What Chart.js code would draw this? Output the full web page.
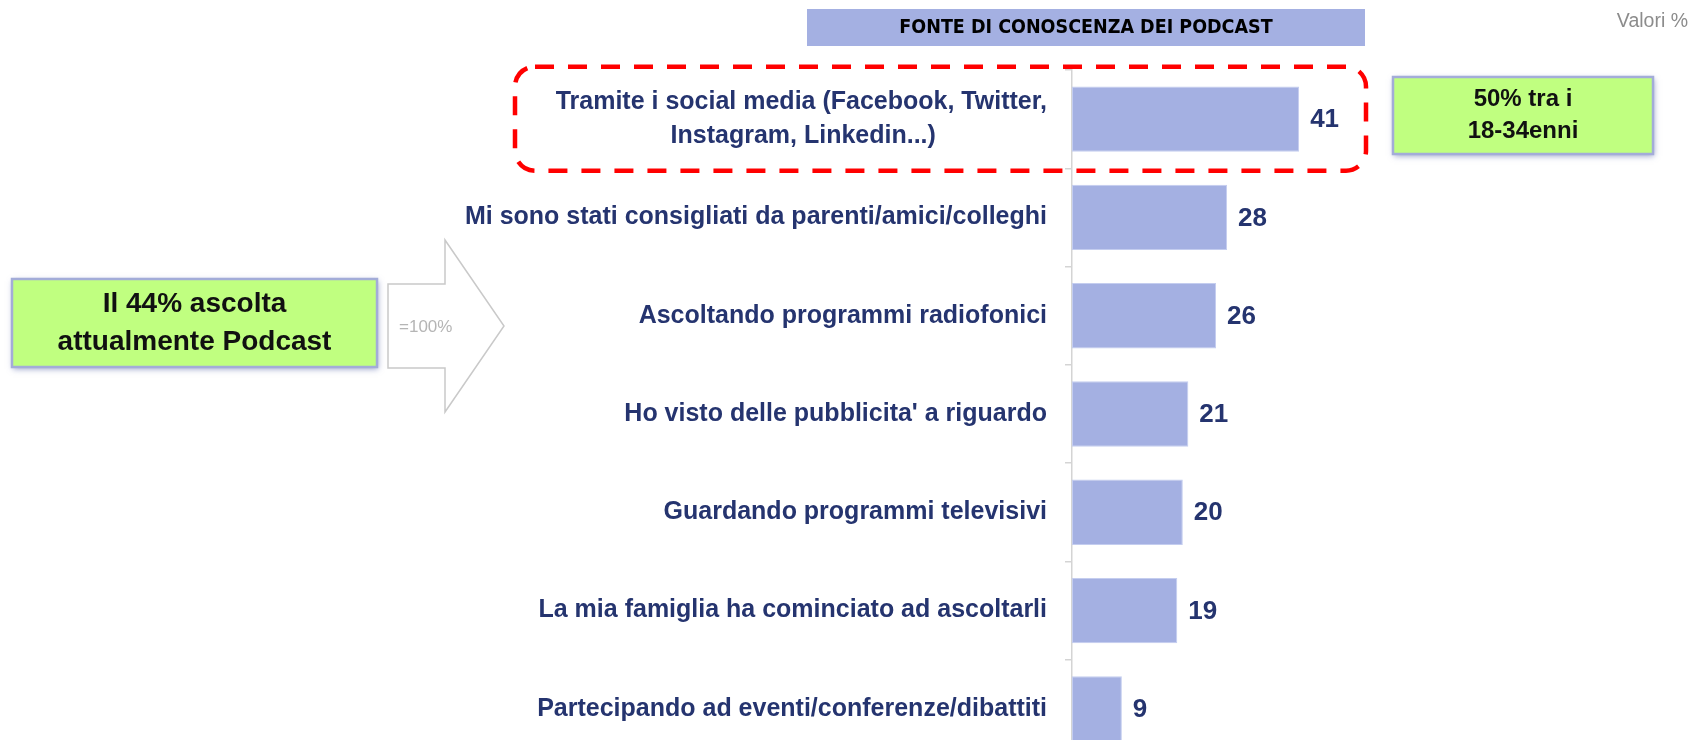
<!DOCTYPE html>
<html>
<head>
<meta charset="utf-8">
<script src="https://cdn.jsdelivr.net/npm/chart.js@4.4.0/dist/chart.umd.min.js"></script>
<style>
    html, body { margin: 0; padding: 0; background: #fff; overflow: hidden; }
    canvas { display: block; }
</style>
</head>
<body>
<canvas id="bars" width="1689" height="830"></canvas>
<script>
// data
const categories = [
    ['Tramite i social media (Facebook, Twitter,', 'Instagram, Linkedin...)                '],
    'Mi sono stati consigliati da parenti/amici/colleghi',
    'Ascoltando programmi radiofonici',
    "Ho visto delle pubblicita' a riguardo",
    'Guardando programmi televisivi',
    'La mia famiglia ha cominciato ad ascoltarli',
    'Partecipando ad eventi/conferenze/dibattiti'
];
const values = [41, 28, 26, 21, 20, 19, 9];
const chartTitle = 'FONTE DI CONOSCENZA DEI PODCAST';
const unitNote = 'Valori %';
const leftNote = ['Il 44% ascolta', 'attualmente Podcast'];
const arrowNote = '=100%';
const rightNote = ['50% tra i', '18-34enni'];

const NAVY = '#25346f';
const BAR = '#a4b0e2';
const GREEN = '#c0ff80';
const SANS = '"Liberation Sans", Arial, sans-serif';

document.addEventListener('DOMContentLoaded', init);
let canvasone, chartone;

function init() {
    canvasone = document.getElementById('bars');
    chartone = canvasone.getContext('2d');
    createBars();
}

function greenBox(ctx, x, y, w, h, lines, size, lineGap) {
    ctx.save();
    ctx.shadowColor = 'rgba(70, 85, 160, 0.55)';
    ctx.shadowBlur = 6;
    ctx.shadowOffsetX = 1;
    ctx.shadowOffsetY = 2;
    ctx.fillStyle = GREEN;
    ctx.fillRect(x, y, w, h);
    ctx.shadowColor = 'transparent';
    ctx.strokeStyle = '#a3acd8';
    ctx.lineWidth = 2.5;
    ctx.strokeRect(x, y, w, h);
    ctx.fillStyle = '#111';
    ctx.font = 'bold ' + size + 'px ' + SANS;
    ctx.textAlign = 'center';
    ctx.textBaseline = 'middle';
    const cy = y + h / 2 - (lines.length - 1) * lineGap / 2;
    lines.forEach((t, i) => ctx.fillText(t, x + w / 2, cy + i * lineGap));
    ctx.restore();
}

const valueLabels = {
    id: 'valueLabels',
    afterDatasetsDraw(chart) {
        const ctx = chart.ctx;
        const meta = chart.getDatasetMeta(0);
        ctx.save();
        ctx.fillStyle = NAVY;
        ctx.font = 'bold 26px ' + SANS;
        ctx.textAlign = 'left';
        ctx.textBaseline = 'middle';
        meta.data.forEach((bar, i) => {
            ctx.fillText(values[i], bar.x + 11, bar.y + 1);
        });
        ctx.restore();
    }
};

const decorations = {
    id: 'decorations',
    afterDraw(chart) {
        const ctx = chart.ctx;
        const y = chart.scales.y;
        ctx.save();

        // header bar
        ctx.fillStyle = BAR;
        ctx.fillRect(807, 9, 558, 37);
        ctx.fillStyle = '#000';
        ctx.font = 'bold 19.5px "DejaVu Sans Condensed", "DejaVu Sans", sans-serif';
        ctx.textAlign = 'center';
        ctx.textBaseline = 'middle';
        ctx.fillText(chartTitle, 1086, 28);

        // unit note
        ctx.fillStyle = '#8c8c8c';
        ctx.font = '19.5px ' + SANS;
        ctx.textAlign = 'right';
        ctx.fillText(unitNote, 1688, 22);

        // arrow
        ctx.beginPath();
        ctx.moveTo(388, 284);
        ctx.lineTo(445, 284);
        ctx.lineTo(445, 240);
        ctx.lineTo(504, 326);
        ctx.lineTo(445, 412);
        ctx.lineTo(445, 368);
        ctx.lineTo(388, 368);
        ctx.closePath();
        ctx.fillStyle = '#fff';
        ctx.fill();
        ctx.strokeStyle = '#c9c9c9';
        ctx.lineWidth = 1.5;
        ctx.stroke();
        ctx.fillStyle = '#b5b5b5';
        ctx.font = '17px ' + SANS;
        ctx.textAlign = 'left';
        ctx.fillText(arrowNote, 399, 327);

        greenBox(ctx, 12, 279, 365, 88, leftNote, 28, 38);
        greenBox(ctx, 1393, 77, 260, 77, rightNote, 24, 32);

        // dashed highlight round the first bar
        const cy = y.getPixelForValue(0);
        ctx.setLineDash([19, 14]);
        ctx.strokeStyle = '#ff0000';
        ctx.lineWidth = 4.5;
        ctx.beginPath();
        ctx.roundRect(515, cy - 52.5, 851, 104, 20);
        ctx.stroke();
        ctx.restore();
    }
};

function createBars() {
    new Chart(chartone, {
        type: 'bar',
        data: {
            labels: categories,
            datasets: [{
                data: values,
                backgroundColor: BAR,
                borderColor: '#c4cdef',
                borderWidth: 1,
                borderSkipped: false,
                categoryPercentage: 1,
                barPercentage: 0.665
            }]
        },
        options: {
            indexAxis: 'y',
            responsive: false,
            animation: false,
            layout: {
                padding: { left: 0, top: 70, right: 340, bottom: 72 }
            },
            scales: {
                x: {
                    display: false,
                    min: 0,
                    max: 50
                },
                y: {
                    offset: true,
                    afterFit(scale) { scale.width = 1072; },
                    border: { display: true, color: '#d4d4d4', width: 1.5 },
                    grid: {
                        offset: true,
                        drawOnChartArea: false,
                        drawTicks: true,
                        tickLength: 7,
                        color: '#d4d4d4',
                        lineWidth: 1.5
                    },
                    ticks: {
                        color: NAVY,
                        padding: 18,
                        font: { family: SANS, size: 25, weight: 'bold', lineHeight: 1.36 }
                    }
                }
            },
            plugins: {
                legend: { display: false },
                title: { display: false },
                tooltip: { enabled: false }
            }
        },
        plugins: [valueLabels, decorations]
    });
}
</script>
</body>
</html>
